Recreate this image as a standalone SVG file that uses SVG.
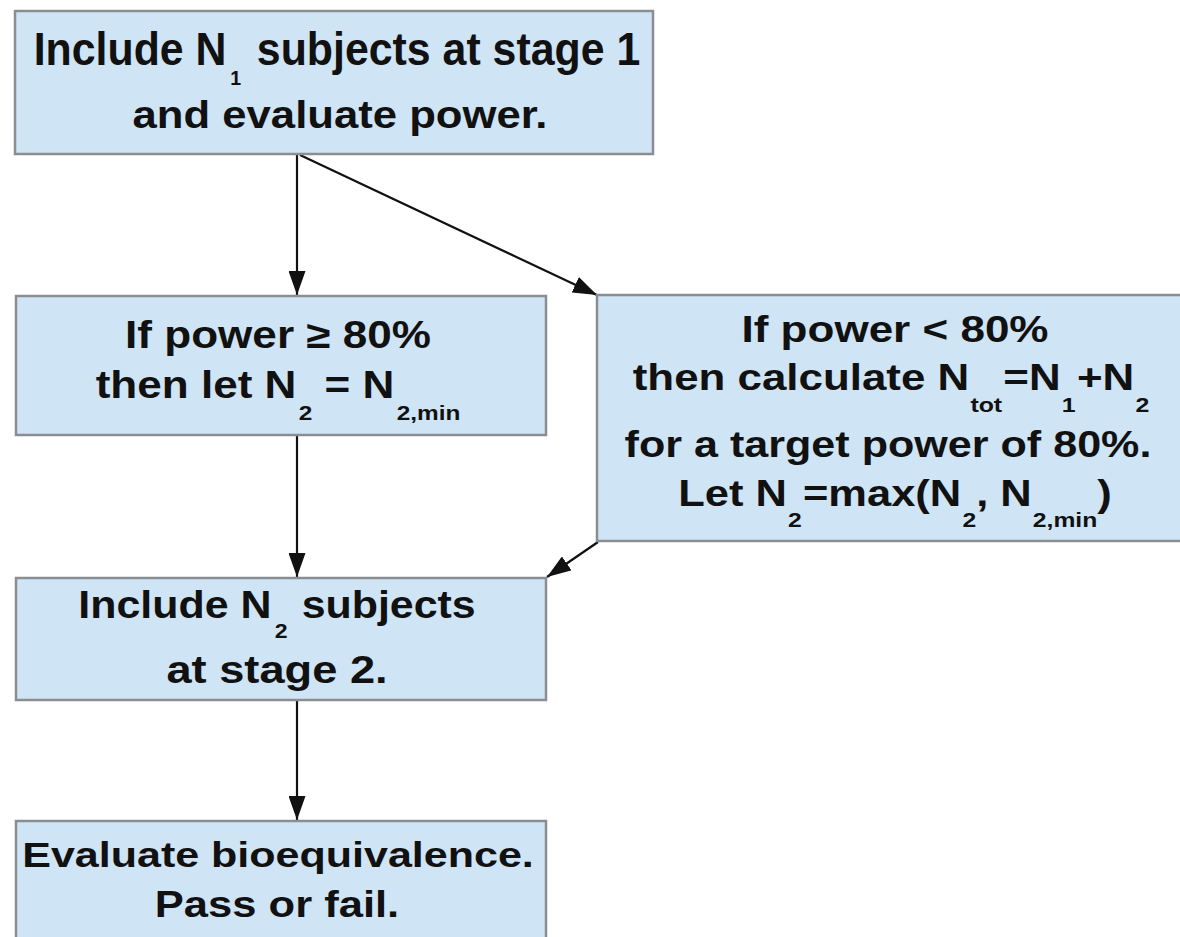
<svg xmlns="http://www.w3.org/2000/svg" width="1180" height="937" viewBox="0 0 1180 937">
  <defs>
    <marker id="arrow" viewBox="0 0 24 17" refX="24" refY="8.5" markerWidth="24" markerHeight="17" markerUnits="userSpaceOnUse" orient="auto">
      <path d="M0,0 L24,8.5 L0,17 Z" fill="#111"/>
    </marker>
  </defs>
  <style>
    .box { fill: #cfe4f4; stroke: #8a8e92; stroke-width: 2.5; }
    .t { font-family: "Liberation Sans", Arial, sans-serif; font-weight: bold; font-size: 38px; fill: #111; text-anchor: middle; }
    .sub { font-size: 21px; }
    .edge { stroke: #111; stroke-width: 2.2; fill: none; marker-end: url(#arrow); }
  </style>
  <rect width="1180" height="937" fill="#ffffff"/>

  <g id="connectors">
    <line class="edge" x1="297" y1="155" x2="297" y2="295"/>
    <line class="edge" x1="300" y1="155" x2="597" y2="295"/>
    <line class="edge" x1="297" y1="436" x2="297" y2="577"/>
    <line class="edge" x1="598" y1="542" x2="547" y2="577"/>
    <line class="edge" x1="297" y1="700" x2="297" y2="820"/>
  </g>

  <g id="stage1">
    <rect class="box" x="15" y="11" width="638" height="143"/>
    <text class="t" transform="translate(337,0) scale(0.932,1)" x="0" y="65" style="font-size:46px">Include N<tspan class="sub" dy="20" dx="4">1</tspan><tspan dy="-20" dx="4"> subjects at stage 1</tspan></text>
    <text class="t" transform="translate(340,0) scale(1.12,1)" x="0" y="128" style="font-size:39px">and evaluate power.</text>
  </g>

  <g id="high-power">
    <rect class="box" x="16" y="296" width="530" height="139"/>
    <text class="t" transform="translate(278,0) scale(1.16,1)" x="0" y="348">If power ≥ 80%</text>
    <text class="t" transform="translate(278,0) scale(1.16,1)" x="0" y="398">then let N<tspan class="sub" dy="22" dx="2">2</tspan><tspan dy="-22"> = N</tspan><tspan class="sub" dy="22" dx="2">2,min</tspan></text>
  </g>

  <g id="low-power">
    <rect class="box" x="597" y="295" width="590" height="246"/>
    <text class="t" transform="translate(895,0) scale(1.19,1)" x="0" y="342" style="font-size:37px">If power &lt; 80%</text>
    <text class="t" transform="translate(891,0) scale(1.186,1)" x="0" y="390" style="font-size:37px">then calculate N<tspan class="sub" dy="22" dx="1">tot</tspan><tspan dy="-22" dx="1">=N</tspan><tspan class="sub" dy="22" dx="1">1</tspan><tspan dy="-22" dx="1">+N</tspan><tspan class="sub" dy="22" dx="1">2</tspan></text>
    <text class="t" transform="translate(888,0) scale(1.165,1)" x="0" y="457" style="font-size:37px">for a target power of 80%.</text>
    <text class="t" transform="translate(895,0) scale(1.175,1)" x="0" y="506" style="font-size:37px">Let N<tspan class="sub" dy="21" dx="1">2</tspan><tspan dy="-21" dx="1">=max(N</tspan><tspan class="sub" dy="21" dx="1">2</tspan><tspan dy="-21">, N</tspan><tspan class="sub" dy="21" dx="1">2,min</tspan><tspan dy="-21">)</tspan></text>
  </g>

  <g id="stage2">
    <rect class="box" x="16" y="578" width="530" height="122"/>
    <text class="t" transform="translate(277,0) scale(1.10,1)" x="0" y="618" style="font-size:39px">Include N<tspan class="sub" dy="20" dx="3">2</tspan><tspan dy="-20" dx="2"> subjects</tspan></text>
    <text class="t" transform="translate(277,0) scale(1.16,1)" x="0" y="683" style="font-size:39px">at stage 2.</text>
  </g>

  <g id="evaluate">
    <rect class="box" x="16" y="821" width="530" height="130"/>
    <text class="t" transform="translate(278,0) scale(1.195,1)" x="0" y="867" style="font-size:36px">Evaluate bioequivalence.</text>
    <text class="t" transform="translate(277,0) scale(1.21,1)" x="0" y="917" style="font-size:36px">Pass or fail.</text>
  </g>
</svg>
